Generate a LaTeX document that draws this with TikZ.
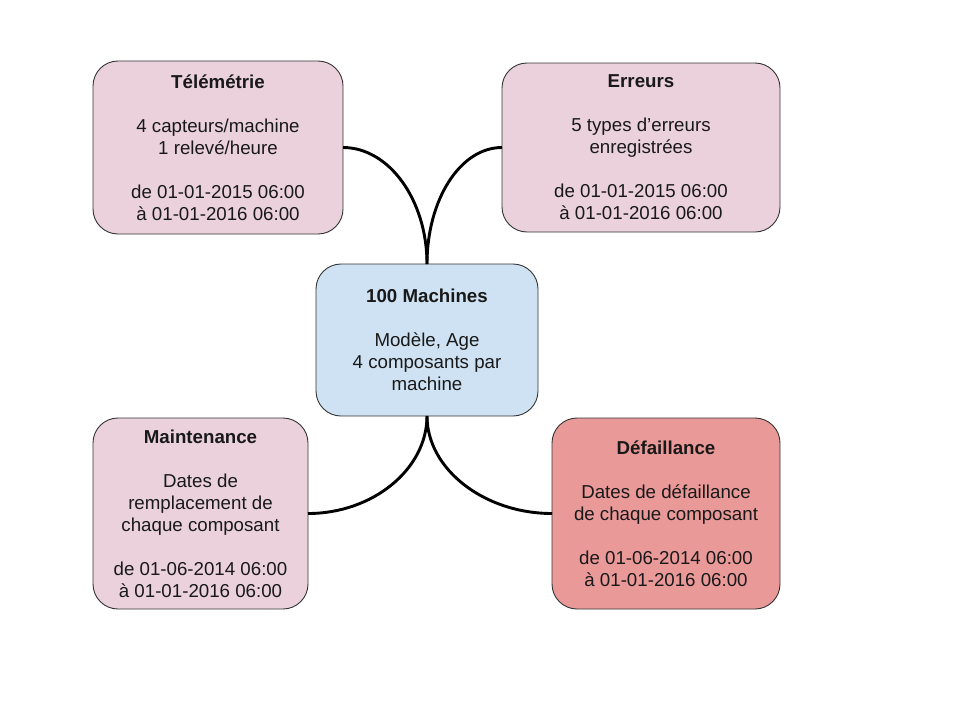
\documentclass[tikz,border=0pt]{standalone}
\usepackage{fontspec}
\setmainfont{Liberation Sans}
\begin{document}
\begin{tikzpicture}[x=1pt,y=-1pt,
  card/.style={draw=black!80, line width=0.9pt, rounded corners=25pt,
    inner sep=0pt, outer sep=0pt, align=center, text=black!90,
    font=\fontsize{18.7}{22}\selectfont},
  pinkcard/.style={card, fill=pinkfill},
  bluecard/.style={card, fill=bluefill},
  redcard/.style={card, fill=redfill},
  link/.style={line width=2.9pt, black}]
\definecolor{pinkfill}{HTML}{EAD1DC}
\definecolor{bluefill}{HTML}{CFE2F3}
\definecolor{redfill}{HTML}{EA9999}
\useasboundingbox (0,0) rectangle (960,720);

\node[pinkcard, minimum width=250pt, minimum height=173pt] (tel) at (218,147.5)
  {\textbf{Télémétrie}\\[22pt]4 capteurs/machine\\1 relevé/heure\\[22pt]de 01-01-2015 06:00\\à 01-01-2016 06:00};
\node[pinkcard, minimum width=278pt, minimum height=169pt] (err) at (641,147.5)
  {\textbf{Erreurs}\\[22pt]5 types d’erreurs\\enregistrées\\[22pt]de 01-01-2015 06:00\\à 01-01-2016 06:00};
\node[bluecard, minimum width=222pt, minimum height=152pt] (mach) at (427,340)
  {\textbf{100 Machines}\\[22pt]Modèle, Age\\4 composants par\\machine};
\node[pinkcard, minimum width=215pt, minimum height=191pt] (maint) at (200.5,513.5)
  {\textbf{Maintenance}\\[22pt]Dates de\\remplacement de\\chaque composant\\[22pt]de 01-06-2014 06:00\\à 01-01-2016 06:00};
\node[redcard, minimum width=228pt, minimum height=191pt] (fail) at (666,513.5)
  {\textbf{Défaillance}\\[22pt]Dates de défaillance\\de chaque composant\\[22pt]de 01-06-2014 06:00\\à 01-01-2016 06:00};

% curved links from the central machine card to each data source
\draw[link] (tel.east) .. controls +(46,0) and +(0,-64) .. (mach.north);
\draw[link] (err.west) .. controls +(-42,0) and +(0,-64) .. (mach.north);
\draw[link] (mach.south) .. controls +(0,53) and +(65,0) .. (maint.east);
\draw[link] (mach.south) .. controls +(0,53) and +(-68,0) .. (fail.west);
\end{tikzpicture}
\end{document}
